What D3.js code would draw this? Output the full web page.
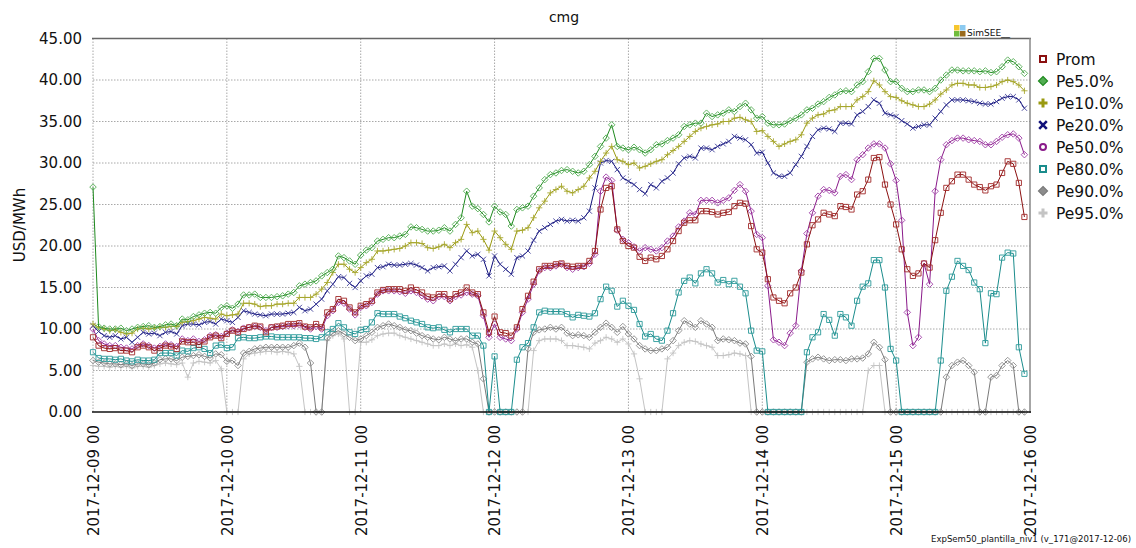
<!DOCTYPE html>
<html>
<head>
<meta charset="utf-8">
<script src="https://cdn.jsdelivr.net/npm/d3@7"></script>
<style>
  body { margin: 0; background: #fff; }
  svg { display: block; }
  text { font-family: "DejaVu Sans", Verdana, sans-serif; fill: #111; }
</style>
</head>
<body>
<svg id="chart" width="1136" height="548"></svg>
<script>
// Hourly marginal cost (cmg) over the week 2017-12-09 .. 2017-12-16, USD/MWh
const dayLabels = ["2017-12-09 00", "2017-12-10 00", "2017-12-11 00", "2017-12-12 00",
                   "2017-12-13 00", "2017-12-14 00", "2017-12-15 00", "2017-12-16 00"];
const yTicks = [0, 5, 10, 15, 20, 25, 30, 35, 40, 45];
const seriesNames = ["Prom", "Pe5.0%", "Pe10.0%", "Pe20.0%", "Pe50.0%", "Pe80.0%", "Pe90.0%", "Pe95.0%"];

const prom = [
  9.0, 8.0, 7.7, 7.6, 7.7, 7.4, 7.4, 7.2, 7.8, 8.0, 7.8, 7.4,
  7.7, 8.0, 7.9, 7.6, 8.5, 8.4, 8.4, 8.1, 8.5, 9.0, 9.2, 8.9,
  9.4, 9.8, 9.6, 10.0, 10.2, 10.4, 10.3, 9.6, 10.2, 10.3, 10.4, 10.6,
  10.6, 10.7, 10.3, 10.2, 10.6, 10.2, 12.0, 12.4, 13.6, 13.4, 12.6, 12.0,
  12.8, 13.0, 13.4, 14.4, 14.7, 14.8, 14.8, 14.8, 14.6, 15.0, 14.7, 14.4,
  13.9, 13.8, 14.2, 14.2, 13.6, 14.2, 14.4, 15.0, 14.4, 14.2, 12.0, 9.6,
  11.5, 9.6, 9.5, 9.2, 10.2, 12.4, 14.0, 15.7, 17.2, 17.6, 17.6, 17.8,
  17.9, 17.6, 17.5, 17.6, 17.6, 18.2, 19.4, 24.4, 27.0, 27.2, 22.0, 20.6,
  20.0, 19.8, 18.7, 18.2, 18.6, 18.4, 18.8, 19.6, 20.6, 21.8, 22.8, 23.1,
  23.1, 24.2, 24.2, 24.1, 23.8, 24.0, 24.1, 24.8, 25.2, 25.1, 22.4, 19.6,
  19.2, 16.0, 13.8, 13.4, 13.1, 14.3, 15.0, 16.8, 20.2, 22.5, 23.2, 24.0,
  23.8, 23.6, 24.8, 24.7, 24.4, 26.2, 26.6, 28.0, 30.6, 30.7, 27.4, 25.0,
  22.6, 19.6, 17.2, 16.4, 16.7, 17.9, 17.4, 20.7, 24.0, 27.0, 27.8, 28.6,
  28.6, 28.0, 27.4, 27.1, 26.7, 27.2, 27.4, 28.8, 30.2, 29.9, 27.6, 23.5
];
const pe5 = [
  27.1, 10.3, 10.1, 10.0, 10.0, 10.1, 9.8, 10.0, 10.2, 10.3, 10.4, 10.2,
  10.3, 10.5, 10.6, 10.4, 11.2, 11.1, 11.5, 11.7, 11.9, 12.0, 11.9, 12.6,
  12.8, 12.5, 13.0, 14.1, 14.1, 14.2, 13.8, 13.8, 13.8, 13.9, 14.0, 14.2,
  14.4, 15.2, 15.4, 15.6, 15.8, 16.4, 16.8, 17.2, 18.8, 18.6, 18.2, 17.8,
  18.9, 19.5, 19.8, 20.6, 20.8, 21.0, 21.0, 21.2, 21.4, 22.3, 22.2, 22.0,
  21.8, 21.8, 21.9, 22.2, 21.8, 22.6, 23.4, 26.6, 24.8, 24.5, 23.8, 22.9,
  24.8, 24.1, 23.8, 22.4, 24.4, 24.6, 24.8, 26.0, 27.0, 28.0, 28.6, 28.8,
  29.1, 29.2, 29.0, 28.8, 29.0, 29.8, 30.8, 32.0, 33.0, 34.6, 32.0, 31.8,
  31.6, 31.9, 31.6, 31.2, 31.6, 32.2, 32.3, 32.7, 33.0, 33.4, 34.4, 34.6,
  34.8, 34.8, 36.0, 35.6, 35.8, 36.0, 36.4, 36.2, 36.8, 37.2, 36.4, 35.4,
  35.6, 34.8, 34.6, 34.6, 34.7, 35.1, 35.4, 35.8, 36.4, 36.6, 37.1, 37.4,
  37.9, 38.2, 38.6, 38.7, 38.6, 39.4, 39.8, 41.0, 42.6, 42.6, 41.2, 39.8,
  39.8, 39.0, 38.6, 38.6, 38.8, 38.8, 38.6, 39.0, 40.0, 40.6, 41.2, 41.2,
  41.1, 41.1, 41.1, 41.0, 41.1, 40.9, 41.0, 41.6, 42.4, 42.2, 41.6, 40.8
];
const pe10 = [
  10.6, 10.2, 10.0, 9.8, 9.9, 9.6, 9.4, 9.5, 10.0, 10.1, 10.0, 10.1,
  10.2, 10.2, 10.3, 10.3, 10.8, 10.9, 11.0, 11.2, 11.4, 11.3, 11.2, 11.8,
  11.6, 11.7, 11.8, 13.1, 13.1, 13.0, 12.7, 12.8, 12.8, 13.0, 13.0, 13.1,
  13.1, 13.8, 13.8, 13.8, 14.2, 14.8, 15.6, 16.8, 17.8, 17.8, 17.2, 16.8,
  17.4, 18.0, 18.4, 19.4, 19.4, 19.5, 19.6, 19.7, 20.0, 20.4, 20.4, 20.3,
  19.8, 19.7, 19.9, 20.2, 19.8, 20.4, 20.8, 22.6, 21.6, 21.8, 20.8, 19.5,
  21.8, 21.0, 20.2, 19.6, 21.8, 21.9, 22.2, 23.4, 24.6, 25.4, 26.4, 26.8,
  27.2, 26.6, 26.4, 26.8, 27.2, 28.2, 29.0, 30.2, 31.2, 32.0, 30.4, 30.2,
  29.8, 30.0, 29.4, 29.6, 29.9, 30.2, 30.4, 31.0, 31.5, 32.0, 32.6, 33.2,
  33.8, 34.2, 34.4, 34.6, 34.7, 35.0, 35.0, 35.4, 35.5, 35.2, 35.0, 33.8,
  33.9, 33.2, 32.6, 32.0, 32.3, 32.6, 32.8, 33.4, 34.8, 35.4, 35.8, 35.9,
  36.3, 36.4, 36.8, 36.8, 36.8, 37.6, 38.0, 38.6, 39.9, 39.4, 38.6, 38.0,
  37.9, 37.5, 37.2, 37.0, 36.8, 36.8, 37.1, 37.6, 38.3, 38.8, 39.4, 39.6,
  39.6, 39.4, 39.4, 39.1, 39.1, 39.2, 39.4, 39.8, 40.0, 39.8, 39.4, 38.7
];
const pe20 = [
  10.4, 9.7, 9.2, 9.0, 9.2, 8.8, 9.0, 8.4, 9.0, 9.6, 9.4, 9.5,
  9.2, 9.6, 9.7, 9.4, 10.4, 10.6, 10.6, 10.5, 10.8, 10.9, 10.6, 11.2,
  11.0, 10.8, 11.4, 12.2, 12.0, 11.8, 11.7, 11.6, 11.8, 11.8, 11.8, 11.9,
  12.0, 12.6, 12.2, 12.4, 13.0, 13.6, 14.6, 15.4, 16.3, 16.2, 15.5, 15.0,
  15.8, 16.4, 16.6, 17.4, 17.5, 17.8, 17.7, 17.7, 17.8, 17.9, 17.7, 17.4,
  17.0, 17.4, 17.5, 17.6, 17.0, 17.8, 18.6, 19.4, 18.8, 19.0, 18.4, 16.4,
  18.8, 17.8, 17.2, 16.6, 18.6, 18.8, 19.4, 20.7, 21.8, 22.2, 22.6, 23.0,
  23.2, 23.0, 23.1, 23.0, 23.4, 24.2, 27.0, 30.0, 30.3, 30.2, 29.2, 28.2,
  27.8, 27.4, 26.8, 26.3, 27.4, 27.0, 27.8, 28.2, 28.8, 29.9, 30.6, 30.8,
  30.6, 31.8, 31.8, 31.6, 32.0, 32.3, 32.6, 33.2, 33.0, 32.8, 32.2, 31.2,
  31.3, 30.0, 28.8, 28.4, 28.4, 28.8, 29.8, 30.8, 32.0, 33.2, 34.0, 34.2,
  34.1, 33.8, 34.8, 34.8, 34.7, 35.8, 36.2, 36.8, 37.6, 37.2, 36.0, 35.8,
  35.6, 35.1, 34.7, 34.2, 34.4, 34.6, 34.6, 35.4, 36.2, 37.0, 37.6, 37.6,
  37.6, 37.5, 37.4, 37.2, 37.1, 37.1, 37.4, 37.8, 38.0, 38.0, 37.6, 36.6
];
const pe50 = [
  10.0, 8.6, 8.2, 8.0, 8.0, 7.8, 7.7, 7.6, 8.0, 8.2, 8.0, 7.7,
  7.9, 8.2, 8.1, 7.9, 8.8, 8.6, 8.8, 8.5, 8.7, 9.2, 9.3, 9.1,
  9.5, 9.9, 9.7, 10.1, 10.2, 10.3, 10.2, 9.8, 10.2, 10.2, 10.3, 10.4,
  10.4, 10.5, 10.2, 10.0, 10.3, 10.0, 11.6, 12.2, 13.2, 13.1, 12.4, 11.7,
  12.6, 12.8, 13.2, 14.2, 14.6, 14.6, 14.6, 14.5, 14.3, 14.6, 14.4, 14.0,
  13.6, 13.4, 13.9, 13.9, 13.4, 13.9, 14.1, 14.4, 14.2, 14.0, 11.6, 9.0,
  10.6, 9.0, 8.8, 8.6, 10.0, 12.0, 13.6, 15.4, 17.0, 17.4, 17.4, 17.6,
  17.8, 17.4, 17.2, 17.4, 17.5, 17.9, 19.0, 26.6, 28.3, 27.9, 21.9, 20.8,
  20.4, 19.9, 19.4, 19.8, 19.6, 19.4, 19.8, 20.6, 21.2, 22.3, 23.0, 24.0,
  23.8, 25.5, 25.5, 25.5, 25.2, 25.5, 25.8, 26.7, 27.4, 26.6, 24.2, 21.4,
  21.0, 15.2, 8.7, 8.4, 8.0, 9.5, 10.4, 17.0, 21.5, 24.0, 26.0, 26.8,
  26.7, 26.4, 28.4, 28.6, 28.0, 30.4, 31.0, 31.8, 32.3, 32.3, 31.8, 29.9,
  27.9, 23.1, 12.0, 8.0, 9.0, 17.9, 15.4, 26.6, 30.4, 32.2, 32.7, 33.0,
  33.0, 32.8, 32.7, 32.6, 32.2, 32.2, 32.6, 33.1, 33.4, 33.5, 33.0, 31.0
];
const pe80 = [
  7.2, 6.5, 6.4, 6.4, 6.3, 6.4, 6.2, 6.1, 6.3, 6.2, 6.2, 6.3,
  7.1, 7.1, 7.1, 6.8, 7.4, 7.3, 7.7, 7.8, 7.6, 7.1, 8.0, 8.1,
  7.7, 7.8, 8.9, 9.0, 8.9, 8.9, 9.0, 9.1, 9.1, 9.0, 9.0, 9.0,
  9.0, 9.0, 8.9, 8.9, 8.8, 9.0, 9.6, 10.0, 10.7, 10.2, 9.6, 9.4,
  9.9, 10.0, 10.8, 11.9, 11.8, 11.8, 11.8, 11.5, 11.3, 11.0, 10.8, 10.6,
  10.2, 10.1, 10.2, 9.9, 9.6, 10.0, 10.0, 10.0, 9.2, 9.2, 8.0, 0,
  6.7, 0, 0, 0, 6.3, 7.8, 8.3, 10.2, 12.0, 12.2, 12.1, 12.1,
  12.1, 11.8, 11.4, 11.7, 11.6, 11.5, 11.9, 13.6, 15.1, 14.6, 12.7, 13.4,
  12.8, 12.3, 10.6, 9.1, 9.4, 8.8, 8.6, 9.8, 11.9, 14.4, 15.8, 16.2,
  15.5, 16.7, 17.2, 16.7, 15.6, 15.9, 15.4, 15.8, 15.1, 14.3, 9.8, 7.4,
  7.3, 0, 0, 0, 0, 0, 0, 0, 7.2, 9.0, 9.6, 11.8,
  11.1, 9.2, 11.8, 11.4, 10.4, 13.4, 15.1, 15.5, 18.3, 18.3, 15.0, 7.6,
  6.2, 0, 0, 0, 0, 0, 0, 0, 6.2, 14.6, 16.3, 18.2,
  17.6, 17.1, 15.6, 14.8, 8.3, 14.3, 14.2, 18.6, 19.2, 19.1, 7.8, 4.6
];
const pe90 = [
  6.2, 6.0, 5.9, 5.8, 5.8, 5.7, 5.8, 5.6, 5.8, 5.8, 5.7, 5.9,
  6.3, 6.4, 6.4, 6.2, 6.6, 6.7, 6.8, 6.9, 6.7, 6.5, 7.0, 6.9,
  6.1, 6.2, 5.6, 7.1, 7.3, 7.6, 7.7, 7.8, 7.8, 7.8, 7.8, 7.8,
  8.0, 8.3, 7.8, 5.9, 0, 0, 8.9, 9.5, 9.8, 9.4, 9.0, 8.6,
  8.8, 9.2, 9.6, 10.2, 10.4, 10.6, 10.4, 10.2, 9.9, 9.8, 9.5, 9.2,
  9.0, 8.8, 8.7, 9.0, 8.8, 8.6, 8.8, 8.8, 8.4, 8.2, 4.0, 0,
  0, 0, 0, 0, 0, 0, 7.6, 9.6, 9.9, 10.0, 10.2, 10.0,
  10.2, 9.5, 9.2, 9.3, 9.2, 9.0, 9.6, 10.2, 10.7, 10.2, 9.6, 10.3,
  9.4, 8.8, 8.0, 7.6, 7.4, 7.4, 7.6, 7.8, 8.6, 9.8, 11.0, 10.6,
  10.2, 11.0, 10.6, 10.2, 8.6, 8.8, 8.7, 8.6, 8.3, 8.2, 6.7, 0,
  0, 0, 0, 0, 0, 0, 0, 0, 6.0, 6.4, 6.6, 6.4,
  6.2, 6.3, 6.3, 6.2, 6.4, 6.4, 6.5, 7.0, 8.4, 7.8, 6.3, 0,
  0, 0, 0, 0, 0, 0, 0, 0, 0, 4.2, 5.6, 6.0,
  6.2, 5.6, 4.8, 0, 0, 4.2, 4.4, 5.6, 6.2, 5.6, 0, 0
];
const pe95 = [
  5.6, 5.5, 5.5, 5.4, 5.5, 5.4, 5.5, 5.3, 5.5, 5.5, 5.4, 5.6,
  5.8, 5.9, 5.8, 5.7, 5.9, 4.2, 5.9, 6.1, 6.0, 5.9, 6.2, 5.2,
  0, 0, 0, 6.4, 7.0, 7.1, 7.2, 7.3, 7.3, 7.2, 7.3, 7.2,
  7.0, 5.5, 0, 0, 0, 0, 8.6, 9.2, 9.4, 8.8, 0, 0,
  8.4, 8.4, 8.7, 9.2, 9.4, 9.5, 9.5, 9.2, 9.0, 8.8, 8.6, 8.4,
  8.2, 8.0, 8.0, 8.2, 8.0, 8.2, 8.0, 8.1, 7.8, 5.0, 0, 0,
  0, 0, 0, 0, 0, 0, 0, 7.4, 8.6, 8.8, 8.8, 8.8,
  8.6, 8.0, 8.0, 7.9, 7.8, 7.6, 8.3, 8.6, 9.0, 8.8, 8.4, 8.8,
  8.2, 7.0, 4.0, 0, 0, 0, 0, 6.4, 7.1, 8.0, 8.4, 8.6,
  8.5, 8.2, 8.0, 7.8, 6.8, 6.8, 6.9, 7.1, 7.0, 6.8, 0, 0,
  0, 0, 0, 0, 0, 0, 0, 0, 0, 0, 0, 0,
  0, 0, 0, 0, 0, 0, 0, 5.0, 5.6, 5.6, 0, 0,
  0, 0, 0, 0, 0, 0, 0, 0, 0, 0, 0, 0,
  0, 0, 0, 0, 0, 0, 0, 0, 0, 0, 0, 0
];

const seriesValues = [prom, pe5, pe10, pe20, pe50, pe80, pe90, pe95];

// Visual style per series (line colour, marker colour, marker shape)
const styles = [
  { line: "#8b1010", mark: "#a02828", shape: "square" },
  { line: "#1f8a1f", mark: "#52ad52", shape: "diamond" },
  { line: "#9a9a10", mark: "#a8a830", shape: "plus" },
  { line: "#10107a", mark: "#3a3a96", shape: "cross" },
  { line: "#8a1a8a", mark: "#a040a8", shape: "diamond" },
  { line: "#1a8c8c", mark: "#2a9a9a", shape: "square" },
  { line: "#7a7a7a", mark: "#8c8c8c", shape: "diamond" },
  { line: "#c4c4c4", mark: "#c4c4c4", shape: "plus" }
];

const svg = d3.select("#chart");
svg.append("rect").attr("width", 1136).attr("height", 548).attr("fill", "#fff");

const parseDay = d3.utcParse("%Y-%m-%d %H");
const formatDay = d3.utcFormat("%Y-%m-%d %H");
const dayDates = dayLabels.map(parseDay);
const t0 = dayDates[0].getTime();
const hourDate = i => new Date(t0 + i * 3600e3);

const x = d3.scaleUtc().domain([dayDates[0], dayDates[dayDates.length - 1]]).range([93, 1030]);
const y = d3.scaleLinear().domain([0, 45]).range([412, 38.5]);

// grid
const grid = svg.append("g");
grid.selectAll("line.h").data(yTicks.filter(v => v > 0 && v < 45)).join("line")
  .attr("x1", 93).attr("x2", 1030).attr("y1", d => y(d)).attr("y2", d => y(d))
  .attr("stroke", "#a8a8a8").attr("stroke-width", 1).attr("stroke-dasharray", "1.5,1.5");
grid.selectAll("line.v").data(dayDates.slice(0, -1)).join("line")
  .attr("x1", d => x(d)).attr("x2", d => x(d)).attr("y1", 38.5).attr("y2", 412)
  .attr("stroke", "#a8a8a8").attr("stroke-width", 1).attr("stroke-dasharray", "1.5,1.5");

// frame
svg.append("line").attr("x1", 92).attr("x2", 1031).attr("y1", 38.5).attr("y2", 38.5)
  .attr("stroke", "#666").attr("stroke-width", 1.5);
svg.append("line").attr("x1", 1030).attr("x2", 1030).attr("y1", 38).attr("y2", 413)
  .attr("stroke", "#888").attr("stroke-width", 1.5);

// y axis
const yAxis = svg.append("g").attr("transform", "translate(93,0)")
  .call(d3.axisLeft(y).tickValues(yTicks).tickFormat(d3.format(".2f")).tickSize(0).tickPadding(11));
yAxis.select(".domain").remove();
yAxis.selectAll("text").style("font-size", "15px").style("font-family", "DejaVu Sans, sans-serif").attr("fill", "#111");

// x axis
const xAxis = svg.append("g").attr("transform", "translate(0,412)")
  .call(d3.axisBottom(x).tickValues(dayDates).tickFormat(formatDay).tickSize(0));
xAxis.select(".domain").remove();
xAxis.selectAll("text")
  .style("font-size", "15px").style("font-family", "DejaVu Sans, sans-serif").attr("fill", "#111")
  .attr("text-anchor", "end").attr("transform", "rotate(-90)")
  .attr("x", -13).attr("y", 0).attr("dy", "0.36em");

// markers
function markerPath(shape, s) {
  switch (shape) {
    case "square": return `M${-s},${-s}H${s}V${s}H${-s}Z`;
    case "diamond": return `M0,${-s * 1.25}L${s * 1.25},0L0,${s * 1.25}L${-s * 1.25},0Z`;
    case "plus": return `M${-s * 1.2},0H${s * 1.2}M0,${-s * 1.2}V${s * 1.2}`;
    case "cross": return `M${-s},${-s}L${s},${s}M${-s},${s}L${s},${-s}`;
    default: return `M0,0`;
  }
}

const line = d3.line().x((d, i) => x(hourDate(i))).y(d => y(d));
const plot = svg.append("g");

// draw last series first so the average ends up on top
for (let k = seriesValues.length - 1; k >= 0; k--) {
  const vals = seriesValues[k], st = styles[k];
  const g = plot.append("g");
  g.append("path").attr("d", line(vals)).attr("fill", "none")
    .attr("stroke", st.line).attr("stroke-width", 1);
  g.selectAll("path.m").data(vals).join("path")
    .attr("transform", (d, i) => `translate(${x(hourDate(i))},${y(d)})`)
    .attr("d", markerPath(st.shape, 2.6))
    .attr("fill", "none").attr("stroke", st.mark).attr("stroke-width", 0.9);
}

// bottom axis line
svg.append("line").attr("x1", 92).attr("x2", 1031).attr("y1", 412).attr("y2", 412)
  .attr("stroke", "#111").attr("stroke-width", 1.6);

// title and axis label
svg.append("text").attr("x", 564).attr("y", 22).attr("text-anchor", "middle")
  .style("font-size", "14px").text("cmg");
svg.append("text").attr("transform", "translate(25,225) rotate(-90)").attr("text-anchor", "middle")
  .style("font-size", "15px").text("USD/MWh");

// legend
const legend = svg.append("g").attr("transform", "translate(1043,59)");
seriesNames.forEach((name, k) => {
  const st = styles[k];
  const g = legend.append("g").attr("transform", `translate(0,${k * 22})`);
  if (st.shape === "square") {
    g.append("rect").attr("x", -3).attr("y", -3).attr("width", 6).attr("height", 6)
      .attr("fill", "#fff").attr("stroke", st.line).attr("stroke-width", 2);
  } else if (st.shape === "diamond" && k === 4) {
    g.append("circle").attr("r", 3).attr("fill", "#fff").attr("stroke", st.line).attr("stroke-width", 2);
  } else if (st.shape === "diamond") {
    g.append("path").attr("d", "M0,-4.5L4.5,0L0,4.5L-4.5,0Z").attr("fill", st.mark)
      .attr("stroke", st.line).attr("stroke-width", 1.2);
  } else if (st.shape === "plus") {
    g.append("path").attr("d", "M-4.5,0H4.5M0,-4.5V4.5").attr("stroke", st.line).attr("stroke-width", 3);
  } else {
    g.append("path").attr("d", "M-3.8,-3.8L3.8,3.8M-3.8,3.8L3.8,-3.8").attr("stroke", st.line).attr("stroke-width", 2.6);
  }
  g.append("text").attr("x", 13).attr("y", 0).attr("dy", "0.36em")
    .style("font-size", "15.5px").text(name);
});

// SimSEE badge
const badge = svg.append("g").attr("transform", "translate(954,25)");
const badgeColors = ["#f6c62e", "#8ccaf0", "#72bd3c", "#9a6a1c"];
badgeColors.forEach((c, i) => {
  badge.append("rect").attr("x", (i % 2) * 6).attr("y", Math.floor(i / 2) * 6)
    .attr("width", 5.5).attr("height", 5.5).attr("fill", c);
});
badge.append("text").attr("x", 13).attr("y", 11).style("font-size", "9px").text("SimSEE__");

// footer
svg.append("text").attr("x", 1131).attr("y", 542).attr("text-anchor", "end")
  .style("font-size", "9.5px").attr("textLength", 200).attr("lengthAdjust", "spacingAndGlyphs")
  .text("ExpSem50_plantilla_niv1 (v_171@2017-12-06)");
</script>
</body>
</html>
